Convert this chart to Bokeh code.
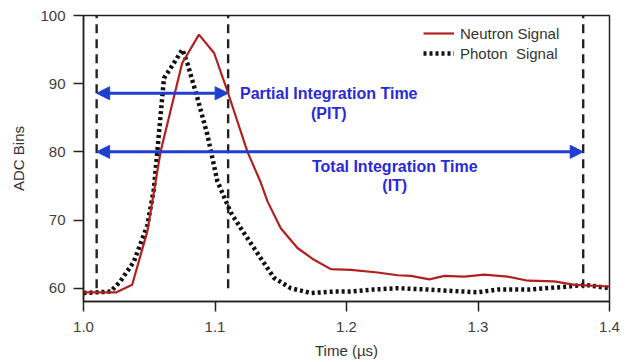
from bokeh.plotting import figure
from bokeh.models import (Range1d, FixedTicker, Arrow, NormalHead, Label, Legend, LegendItem)
from bokeh.embed import file_html
from bokeh.resources import INLINE

# ---- data ----
neutron_t = [1.000, 1.025, 1.037, 1.0485, 1.0586, 1.075, 1.0878, 1.0993, 1.110, 1.1247,
             1.1348, 1.140, 1.150, 1.1627, 1.175, 1.188, 1.2034, 1.2237, 1.2389, 1.249,
             1.263, 1.2745, 1.2896, 1.3048, 1.3226, 1.338, 1.358, 1.3734, 1.400]
neutron_v = [59.4, 59.4, 60.5, 68.3, 80.0, 93.0, 97.2, 94.5, 88.6, 80.0,
             75.5, 72.7, 68.8, 65.9, 64.2, 62.8, 62.7, 62.3, 61.9, 61.8,
             61.3, 61.8, 61.7, 62.0, 61.7, 61.1, 61.0, 60.5, 60.25]

photon_t = [1.000, 1.0206, 1.028, 1.0383, 1.0485, 1.0535, 1.0561, 1.0612, 1.0663, 1.0752,
            1.079, 1.0866, 1.0942, 1.1018, 1.112, 1.1196, 1.1348, 1.145, 1.1576, 1.1729,
            1.190, 1.203, 1.220, 1.239, 1.2617, 1.280, 1.300, 1.315, 1.338, 1.366,
            1.381, 1.400]
photon_v = [59.3, 59.5, 61.0, 63.9, 69.2, 74.5, 80.0, 90.8, 92.3, 95.0,
            93.0, 87.9, 82.5, 75.7, 71.1, 68.8, 64.4, 61.5, 60.0, 59.3,
            59.5, 59.5, 59.8, 60.0, 59.8, 59.6, 59.4, 59.8, 59.8, 60.2,
            60.5, 60.0]

marker_t = [1.01, 1.11, 1.38]          # dashed vertical markers
marker_lo = [60, 60, 60]
marker_hi = [100, 100, 100]

pit_start, pit_end, pit_level = 1.01, 1.11, 88.6
it_start, it_end, it_level = 1.01, 1.38, 80.0

x_ticks = [1.0, 1.1, 1.2, 1.3, 1.4]
x_tick_labels = ["1.0", "1.1", "1.2", "1.3", "1.4"]
y_ticks = [60, 70, 80, 90, 100]

FONT = "Liberation Sans"
BLUE = "#1f3fd2"
TEXT_BLUE = "#2a2ad6"
RED = "#b0201f"

p = figure(width=630, height=362, output_backend="svg", toolbar_location=None,
           x_range=Range1d(1.0, 1.4), y_range=Range1d(58.05, 100),
           min_border_left=83, min_border_right=21, min_border_top=15, min_border_bottom=61)
p.background_fill_color = "white"
p.border_fill_color = "white"
p.grid.visible = False
p.outline_line_color = "#222222"
p.outline_line_width = 1.5

for ax in (p.xaxis[0], p.yaxis[0]):
    ax.axis_line_color = "#222222"
    ax.axis_line_width = 1.5
    ax.major_tick_line_color = "#222222"
    ax.major_tick_line_width = 1.5
    ax.major_tick_out = 10
    ax.major_tick_in = 0
    ax.minor_tick_line_color = None
    ax.major_label_text_font = FONT
    ax.major_label_text_font_size = "15px"
    ax.major_label_text_color = "#404040"
    ax.axis_label_text_font = FONT
    ax.axis_label_text_font_size = "15px"
    ax.axis_label_text_font_style = "normal"
    ax.axis_label_text_color = "#333333"

p.xaxis.ticker = FixedTicker(ticks=x_ticks)
p.xaxis.major_label_overrides = {t: l for t, l in zip(x_ticks, x_tick_labels)}
p.yaxis.ticker = FixedTicker(ticks=y_ticks)
p.xaxis.axis_label = "Time (µs)"
p.yaxis.axis_label = "ADC Bins"
p.xaxis.major_label_standoff = 10
p.yaxis.major_label_standoff = 8
p.xaxis.axis_label_standoff = 7
p.yaxis.axis_label_standoff = 10

# dashed markers
p.segment(x0=marker_t, y0=marker_lo, x1=marker_t, y1=marker_hi,
          line_color="#222222", line_width=2.4, line_dash="9 6")

# curves
r_ph = p.line(photon_t, photon_v, line_color="#111111", line_width=4.5, line_dash="3 3")
r_ne = p.line(neutron_t, neutron_v, line_color=RED, line_width=2.2)

# arrows
for xs, xe, yl in [(pit_start, pit_end, pit_level), (it_start, it_end, it_level)]:
    p.add_layout(Arrow(x_start=xs, y_start=yl, x_end=xe, y_end=yl,
                       line_color=BLUE, line_width=3,
                       start=NormalHead(size=13, fill_color=BLUE, line_color=BLUE),
                       end=NormalHead(size=13, fill_color=BLUE, line_color=BLUE)))

# annotation texts
def lab(x, y, t):
    p.add_layout(Label(x=x, y=y, text=t, text_font=FONT, text_font_size="16px",
                       text_font_style="bold", text_color=TEXT_BLUE,
                       text_align="center", text_baseline="middle"))

lab(1.1865, 88.5, "Partial Integration Time")
lab(1.1865, 85.6, "(PIT)")
lab(1.2367, 77.8, "Total Integration Time")
lab(1.2367, 75.0, "(IT)")

legend = Legend(items=[LegendItem(label="Neutron Signal", renderers=[r_ne]),
                       LegendItem(label="Photon  Signal", renderers=[r_ph])],
                location=(340, 238), padding=0, margin=0, spacing=0,
                border_line_color=None, background_fill_alpha=0,
                label_text_font=FONT, label_text_font_size="15px",
                label_text_color="#333333", glyph_width=31, glyph_height=20,
                label_height=20, label_standoff=6)
p.add_layout(legend)

open("out.html", "w").write(file_html(p, INLINE))
